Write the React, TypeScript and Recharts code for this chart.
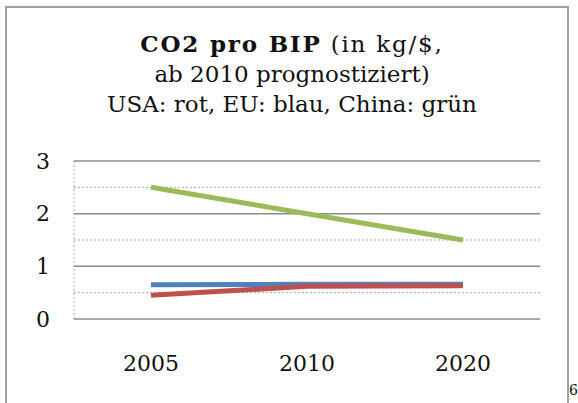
import React from 'react'
import {
  LineChart,
  Line,
  XAxis,
  YAxis,
  CartesianGrid,
  ReferenceLine,
} from 'recharts'

const years = ['2005', '2010', '2020']
const usa = [0.45, 0.62, 0.63]
const eu = [0.65, 0.66, 0.66]
const china = [2.5, 2.0, 1.5]
const yTicks = [0, 1, 2, 3]
const halfLines = [0.5, 1.5, 2.5]

const data = years.map((y, i) => ({
  year: y,
  usa: usa[i],
  eu: eu[i],
  china: china[i],
}))

const FONT = '"DejaVu Serif", serif'

export default function App() {
  return (
    <div
      style={{
        position: 'absolute',
        left: 0,
        top: 0,
        width: 578,
        height: 403,
        background: '#fff',
        overflow: 'hidden',
        fontFamily: FONT,
      }}
    >
      <div
        style={{
          position: 'absolute',
          left: 5,
          top: 6,
          width: 560,
          height: 410,
          border: '2px solid #a0a0a0',
        }}
      />
      <div
        style={{
          position: 'absolute',
          left: 0,
          top: 29,
          width: 584,
          textAlign: 'center',
          fontSize: 23,
          lineHeight: '30px',
          color: '#111',
        }}
      >
        <div style={{ letterSpacing: 1.8 }}>
          <b>CO2 pro BIP</b> (in kg/$,
        </div>
        <div>ab 2010 prognostiziert)</div>
        <div>USA: rot, EU: blau, China: grün</div>
      </div>
      <div
        style={{
          position: 'absolute',
          left: 569,
          top: 382,
          fontSize: 14,
          color: '#111',
        }}
      >
        6
      </div>
      <div style={{ position: 'absolute', left: 0, top: 0 }}>
        <LineChart
          width={578}
          height={403}
          data={data}
          margin={{ top: 161, right: 38, left: 30, bottom: 0 }}
        >
          <CartesianGrid
            vertical={false}
            stroke='#8c8c8c'
            strokeWidth={1.5}
          />
          {halfLines.map((v) => (
            <ReferenceLine
              key={v}
              y={v}
              stroke='#a8a8a8'
              strokeDasharray='2 2'
            />
          ))}
          <XAxis
            dataKey='year'
            axisLine={false}
            tickLine={false}
            tickSize={0}
            tickMargin={36}
            height={84}
            padding={{ left: 77, right: 77 }}
            tick={{ fontSize: 22, fill: '#111', fontFamily: FONT }}
          />
          <YAxis
            domain={[0, 3]}
            ticks={yTicks}
            width={44}
            axisLine={{ stroke: '#a8a8a8', strokeDasharray: '2 2' }}
            tickLine={false}
            tickSize={0}
            tickMargin={24}
            tick={{ fontSize: 22, fill: '#111', fontFamily: FONT }}
          />
          <Line
            dataKey='china'
            stroke='#9bbb59'
            strokeWidth={5}
            dot={false}
            isAnimationActive={false}
          />
          <Line
            dataKey='eu'
            stroke='#4f81bd'
            strokeWidth={5}
            dot={false}
            isAnimationActive={false}
          />
          <Line
            dataKey='usa'
            stroke='#c0504d'
            strokeWidth={5}
            dot={false}
            isAnimationActive={false}
          />
        </LineChart>
      </div>
    </div>
  )
}
